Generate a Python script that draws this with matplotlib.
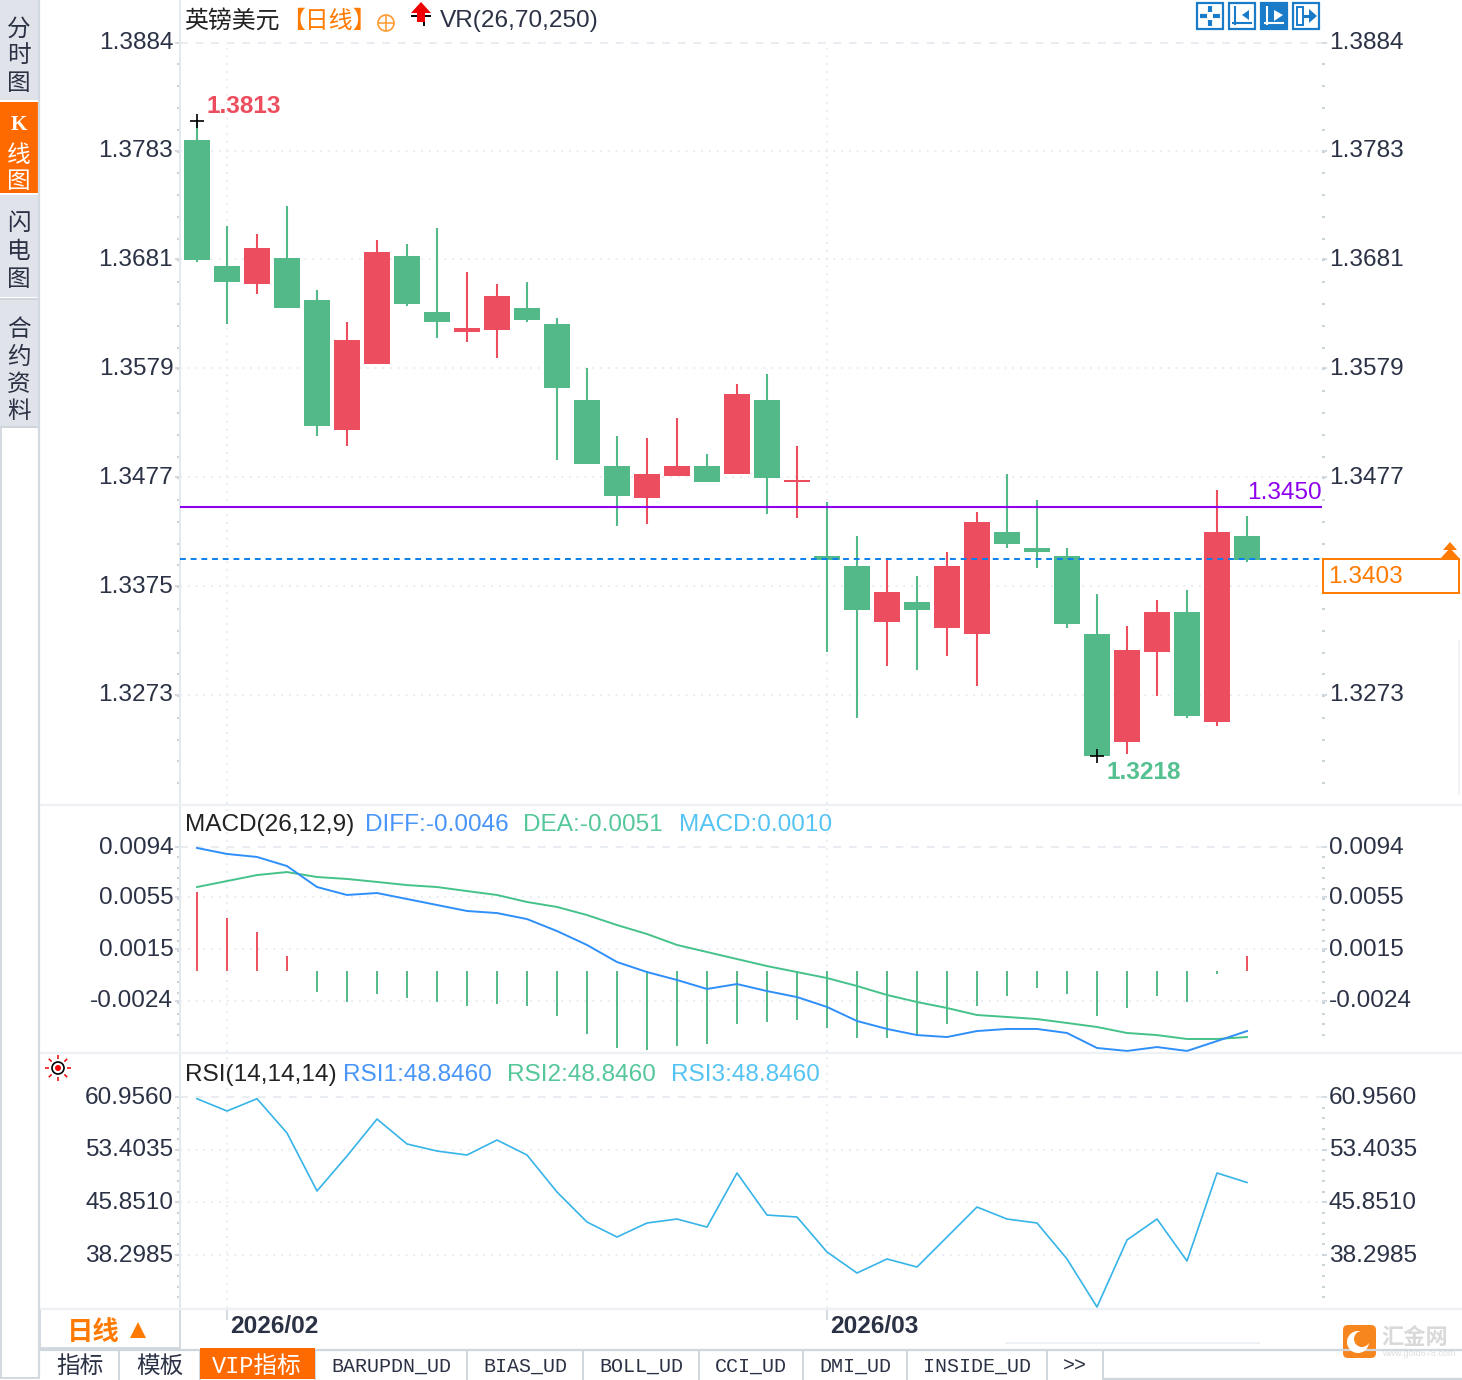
import numpy as np
import matplotlib
matplotlib.use('Agg')
import matplotlib.pyplot as plt
from matplotlib.patches import Rectangle, Polygon, Circle, FancyBboxPatch
from matplotlib.transforms import ScaledTranslation

plt.rcParams['font.family'] = ['Liberation Sans', 'Noto Sans CJK SC']

W, H = 1462, 1380

# daily candles
opens = [1.37929, 1.36748, 1.36580, 1.36823, 1.36430, 1.35212, 1.35830, 1.36842, 1.36317, 1.36130, 1.36149, 1.36355,
         1.36205, 1.35493, 1.34875, 1.34575, 1.34781, 1.34875, 1.34800, 1.35493, 1.34725, 1.34032, 1.33938, 1.33414,
         1.33601, 1.33358, 1.33301, 1.34257, 1.34107, 1.34032, 1.33301, 1.32290, 1.33133, 1.33507, 1.32477, 1.34219]
closes = [1.36805, 1.36599, 1.36917, 1.36355, 1.35250, 1.36055, 1.36880, 1.36392, 1.36224, 1.36168, 1.36467, 1.36243,
          1.35606, 1.34894, 1.34594, 1.34800, 1.34875, 1.34725, 1.35549, 1.34763, 1.34744, 1.33994, 1.33526, 1.33695,
          1.33526, 1.33938, 1.34350, 1.34144, 1.34069, 1.33395, 1.32159, 1.33151, 1.33507, 1.32533, 1.34257, 1.33994]
highs = [1.38107, 1.37123, 1.37048, 1.37310, 1.36524, 1.36224, 1.36992, 1.36954, 1.37104, 1.36692, 1.36580, 1.36599,
         1.36261, 1.35793, 1.35156, 1.35137, 1.35325, 1.34987, 1.35643, 1.35737, 1.35062, 1.34538, 1.34219, 1.34013,
         1.33845, 1.34069, 1.34444, 1.34800, 1.34556, 1.34107, 1.33676, 1.33376, 1.33620, 1.33713, 1.34650, 1.34407]
lows = [1.36786, 1.36205, 1.36486, 1.36355, 1.35156, 1.35062, 1.35830, 1.36374, 1.36074, 1.36036, 1.35887, 1.36224,
        1.34931, 1.34894, 1.34313, 1.34332, 1.34781, 1.34725, 1.34800, 1.34425, 1.34388, 1.33133, 1.32514, 1.33002,
        1.32964, 1.33095, 1.32814, 1.34107, 1.33920, 1.33358, 1.32159, 1.32177, 1.32721, 1.32514, 1.32440, 1.33976]
hl_line = 1.3449
last_line = 1.3400

diff = [94.5, 89.9, 87.6, 80.6, 64.5, 58.4, 59.9, 55.3, 50.7, 46.1, 44.5, 39.9, 30.7, 20.0, 6.9, -0.8, -6.9, -13.8,
        -10.0, -15.4, -20.0, -27.6, -38.4, -44.5, -49.2, -50.7, -46.1, -44.5, -44.5, -47.6, -59.1, -61.4, -58.4,
        -61.4, -53.8, -46.1]
dea = [64.5, 69.1, 73.7, 76.0, 72.2, 70.7, 68.4, 66.0, 64.5, 61.4, 58.4, 53.0, 49.2, 43.0, 35.3, 28.4, 20.0, 14.6,
       9.2, 3.8, -0.8, -5.4, -11.5, -18.4, -23.8, -28.4, -33.8, -35.3, -36.9, -39.9, -43.0, -47.6, -49.2, -52.2,
       -52.2, -50.7]
macd = [60.7, 40.7, 30.0, 11.5, -16.1, -23.8, -17.7, -20.7, -23.8, -26.9, -25.3, -26.9, -34.6, -48.4, -59.1, -60.7,
        -57.6, -56.1, -40.7, -39.2, -37.6, -43.8, -51.5, -51.5, -49.9, -40.7, -26.9, -19.2, -13.1, -17.7, -34.6,
        -28.4, -19.2, -23.8, -2.3, 11.5]
rsi = [60.71, 58.95, 60.71, 55.79, 47.48, 52.50, 57.80, 54.22, 53.21, 52.64, 54.79, 52.64, 47.33, 43.03, 40.88,
       42.89, 43.46, 42.31, 50.06, 44.03, 43.75, 38.73, 35.72, 37.73, 36.58, 40.88, 45.18, 43.46, 42.89, 37.73,
       30.84, 40.45, 43.46, 37.44, 50.06, 48.70]

price_ticks = [1.3884, 1.3783, 1.3681, 1.3579, 1.3477, 1.3375, 1.3273]
macd_ticks = [95.2, 56.8, 16.9, -23.0]
macd_tick_labels = ['0.0094', '0.0055', '0.0015', '-0.0024']
rsi_ticks = [60.956, 53.4035, 45.851, 38.2985]
date_pos = [1, 21]
date_labels = ['2026/02', '2026/03']
tabs = ['BARUPDN_UD', 'BIAS_UD', 'BOLL_UD', 'CCI_UD', 'DMI_UD', 'INSIDE_UD', '>>']

RED = '#ed4e5f'
GREEN = '#53b988'
TEXT = '#2b3245'
GRID = '#e9edf1'
TICK = '#ccd4dc'
ORANGE = '#ff7a00'
BLUE_ICON = '#1a7cc9'
FS = 17.6


def add_panel(top, bottom):
    ax = fig.add_axes([180 / W, 1 - bottom / H, (1322 - 180) / W, (bottom - top) / H])
    ax.set_xlim(-0.567, 37.5)
    for s in ['top', 'right', 'bottom']:
        ax.spines[s].set_visible(False)
    ax.spines['left'].set_color('#e4e9ee')
    ax.spines['left'].set_linewidth(1.5)
    ax.set_xticks([])
    ax.tick_params(axis='y', which='major', length=3.6, width=1.2, color=TICK, labelsize=FS, labelcolor=TEXT,
                   left=True, right=True, labelleft=True, labelright=True, pad=1.2)
    ax.tick_params(axis='y', which='minor', length=2, width=1.5, color=TICK, left=True, right=True)
    return ax


def h_grid(ax, vals):
    # first line dashed, the rest dotted
    for k, v in enumerate(vals):
        if k == 0:
            ax.axhline(v, color=GRID, lw=1.4, ls=(0, (4, 4)), zorder=0)
        else:
            ax.axhline(v, color=GRID, lw=1.4, ls=(0, (1, 3)), zorder=0)


def shift_labels(ax, dy=2):
    off = ScaledTranslation(0, dy / 100, fig.dpi_scale_trans)
    for lab in ax.get_yticklabels():
        lab.set_transform(lab.get_transform() + off)


fig = plt.figure(figsize=(W / 100, H / 100), dpi=100)

# candles
ax1 = add_panel(0, 804)
ax1.set_ylim(1.31709, 1.39240)
x = np.arange(len(opens))
colors = [RED if c >= o else GREEN for o, c in zip(opens, closes)]
h_grid(ax1, price_ticks)
for d in date_pos:
    ax1.axvline(d, ymax=0.94, color=GRID, lw=1.4, ls=(0, (1, 3)), zorder=0)
ax1.vlines(x, lows, highs, colors=colors, lw=1.5, zorder=2)
ax1.bar(x, np.abs(np.array(closes) - np.array(opens)), bottom=np.minimum(opens, closes), width=0.867,
        color=colors, zorder=3)
ax1.axhline(hl_line, color='#8f00f0', lw=1.5, zorder=4)
ax1.axhline(last_line, color='#0a7ff0', lw=1.4, ls=(0, (3, 2.5)), zorder=4)
ax1.set_yticks(price_ticks)
ax1.set_yticklabels(['%.4f' % p for p in price_ticks])
ax1.set_yticks(np.arange(1.3884, 1.3180, -0.00204), minor=True)
ax1.plot([0, 30], [highs[0], lows[30]], ls='', marker='+', ms=9.5, mew=1.2, color='black', zorder=5)
ax1.annotate('1.3813', xy=(0, highs[0]), xytext=(7.0, 10.2), textcoords='offset points', color=RED, fontsize=FS,
             fontweight='bold', va='center', ha='left')
ax1.annotate('1.3218', xy=(30, lows[30]), xytext=(7.0, -12.2), textcoords='offset points', color='#55c090',
             fontsize=FS, fontweight='bold', va='center', ha='left')
ax1.annotate('1.3450', xy=(37.5, hl_line), xytext=(0, 10), textcoords='offset points', color='#8f00f0', fontsize=FS,
             va='center', ha='right')
shift_labels(ax1)
# the last price box covers this label on the right side
ax1.yaxis.get_major_ticks()[5].label2.set_visible(False)

# macd, values are in 1e-4
ax2 = add_panel(805, 1052)
ax2.set_ylim(-62.2, 127.5)
h_grid(ax2, macd_ticks)
for d in date_pos:
    ax2.axvline(d, color=GRID, lw=1.4, ls=(0, (1, 3)), zorder=0)
ax2.vlines(x, 0, macd, colors=[RED if m > 0 else GREEN for m in macd], lw=1.4, zorder=2)
ax2.plot(x, dea, color='#45c28a', lw=1.4, zorder=3)
ax2.plot(x, diff, color='#2f8ffa', lw=1.4, zorder=3)
ax2.set_yticks(macd_ticks)
ax2.set_yticklabels(macd_tick_labels)
ax2.set_yticks(np.arange(95.2, -56, -8.0), minor=True)
shift_labels(ax2)

# rsi
ax3 = add_panel(1053, 1308)
ax3.set_ylim(30.70, 67.27)
h_grid(ax3, rsi_ticks)
for d in date_pos:
    ax3.axvline(d, color=GRID, lw=1.4, ls=(0, (1, 3)), zorder=0)
ax3.plot(x, rsi, color='#36b4e8', lw=1.2, zorder=3)
ax3.set_yticks(rsi_ticks)
ax3.set_yticklabels(['%.4f' % r for r in rsi_ticks])
ax3.set_yticks(np.arange(60.956, 32, -1.51), minor=True)
shift_labels(ax3)
ax3.set_xticks(date_pos)
ax3.set_xticklabels(date_labels, fontsize=FS, fontweight='bold', color=TEXT, ha='left')
ax3.tick_params(axis='x', length=8.6, width=1.2, color=TICK, pad=-3.6)
off = ScaledTranslation(3 / 100, 0, fig.dpi_scale_trans)
for lab in ax3.get_xticklabels():
    lab.set_transform(lab.get_transform() + off)

# window chrome on top, in pixel coordinates
ov = fig.add_axes([0, 0, 1, 1], zorder=10)
ov.set_xlim(0, W)
ov.set_ylim(H, 0)
ov.axis('off')
ov.patch.set_alpha(0)


def rect(x0, y0, x1, y1, fc='none', ec='none', lw=0, z=1):
    ov.add_patch(Rectangle((x0, y0), x1 - x0, y1 - y0, facecolor=fc, edgecolor=ec, linewidth=lw, zorder=z))


def line(xs, ys, c=TICK, lw=1.4, z=2):
    ov.plot(xs, ys, color=c, lw=lw, zorder=z, solid_capstyle='butt')


# left tabs
rect(0, 0, 38, 100, fc='#e0e3ea')
rect(0, 102, 38, 193, fc='#ff6a00')
rect(0, 195, 38, 297, fc='#e0e3ea')
rect(0, 300, 38, 426, fc='#e0e3ea')
line([0, 38], [298.5, 298.5], c='#cdd4dc', lw=1.4)
line([0, 38], [427, 427], c='#cdd4dc', lw=1.4)
line([39, 39], [0, 1378], c='#d3d9e0', lw=1.6)
line([1, 1], [427, 1378], c='#d3d9e0', lw=1.4)
line([0, 40], [1378, 1378], c='#d3d9e0', lw=1.4)
for ch, yy in [('分', 29), ('时', 56), ('图', 84), ('闪', 224), ('电', 252), ('图', 280), ('合', 330), ('约', 357),
               ('资', 384), ('料', 412)]:
    ov.text(19, yy, ch, color=TEXT, fontsize=17, ha='center', va='center', family='Noto Sans CJK SC')
for ch, yy in [('线', 155), ('图', 182)]:
    ov.text(19, yy, ch, color='white', fontsize=17, ha='center', va='center', family='Noto Sans CJK SC')
ov.text(19, 125, 'K', color='white', fontsize=15, ha='center', va='center', family='Liberation Serif', fontweight='bold')

# panel separators
for yy in [804.5, 1052.5, 1308.5]:
    line([40, W], [yy, yy], c='#edf1f5', lw=1.6)
line([1005, 1260], [1342.5, 1342.5], c='#edf1f5', lw=1.4)
line([1459, 1459], [640, 795], c='#eef1f5', lw=1.4)

# titles
ov.text(184, 21, '英镑美元', color='#222222', fontsize=17.2, va='center', family='Noto Sans CJK SC')
ov.text(281, 21, '【日线】', color=ORANGE, fontsize=17.2, va='center', family='Noto Sans CJK SC')
ov.text(440, 21, 'VR(26,70,250)', color='#2b3245', fontsize=FS, va='center')
for txt, xx, yy, c in [('MACD(26,12,9)', 185, 825, '#222222'), ('DIFF:-0.0046', 365, 825, '#4a96f8'),
                       ('DEA:-0.0051', 523, 825, '#55c79a'), ('MACD:0.0010', 679, 825, '#55c4f2'),
                       ('RSI(14,14,14)', 185, 1075, '#222222'), ('RSI1:48.8460', 343, 1075, '#4a96f8'),
                       ('RSI2:48.8460', 507, 1075, '#55c79a'), ('RSI3:48.8460', 671, 1075, '#55c4f2')]:
    ov.text(xx, yy, txt, color=c, fontsize=FS, va='center')

# small title icons
ov.add_patch(Circle((386, 23), 8, fc='none', ec='#ff9a30', lw=1.2))
line([378, 394], [23, 23], c='#ff9a30', lw=1.1)
line([386, 386], [15, 31], c='#ff9a30', lw=1.1)
line([411, 431], [16, 16], c='black', lw=1.4)
line([424, 424], [12, 26], c='black', lw=1.4)
ov.add_patch(Polygon([(421, 2), (431, 13), (425, 13), (425, 22), (417, 22), (417, 13), (411, 13)], fc='#f00000', ec='none', zorder=3))

# toolbar top right
for k, x0 in enumerate([1196, 1228, 1260, 1292]):
    filled = k == 2
    rect(x0 + 1, 3, x0 + 27, 29, fc=BLUE_ICON if filled else 'white', ec=BLUE_ICON, lw=1.6)
    c = 'white' if filled else BLUE_ICON
    if k == 0:
        line([x0 + 4, x0 + 11], [16, 16], c=c, lw=3)
        line([x0 + 17, x0 + 24], [16, 16], c=c, lw=3)
        line([x0 + 14, x0 + 14], [6, 12], c=c, lw=3)
        line([x0 + 14, x0 + 14], [20, 26], c=c, lw=3)
    elif k in (1, 2):
        line([x0 + 7, x0 + 7], [6, 25], c=c, lw=1.5)
        line([x0 + 4, x0 + 24], [23, 23], c=c, lw=1.5)
        pts = [(x0 + 21, 10), (x0 + 21, 20), (x0 + 14, 15)] if k == 1 else [(x0 + 14, 10), (x0 + 14, 21), (x0 + 23, 15)]
        ov.add_patch(Polygon(pts, fc=c, ec='none', zorder=3))
    else:
        rect(x0 + 5, 7, x0 + 11, 25, ec=c, lw=1.4, z=3)
        line([x0 + 11, x0 + 19], [16, 16], c=c, lw=2.2)
        ov.add_patch(Polygon([(x0 + 17, 9), (x0 + 17, 23), (x0 + 25, 16)], fc=c, ec='none', zorder=3))

# last price box
rect(1323, 559, 1459, 593, fc='white', ec=ORANGE, lw=1.4)
ov.text(1328, 577, '1.3403', color=ORANGE, fontsize=FS, va='center')
ov.add_patch(Polygon([(1450, 542), (1457, 550), (1443, 550)], fc=ORANGE, ec='none'))
ov.add_patch(Polygon([(1450, 548), (1459, 558), (1441, 558)], fc=ORANGE, ec='none'))

# sun icon of the rsi panel
ov.add_patch(Circle((58, 1068), 6, fc='white', ec='black', lw=1.2, zorder=3))
ov.add_patch(Circle((58, 1068), 3, fc='#f00000', ec='none', zorder=4))
for a in np.arange(0, 360, 45):
    ca, sa = np.cos(np.radians(a)), np.sin(np.radians(a))
    line([58 + 9 * ca, 58 + 13 * ca], [1068 + 9 * sa, 1068 + 13 * sa], c='#f00000', lw=1.1)

# bottom left period box
rect(40, 1309, 180, 1348, fc='white', ec='#d3d9e0', lw=1.4)
ov.text(93, 1332, '日线', color=ORANGE, fontsize=19, ha='center', va='center', family='Noto Sans CJK SC', fontweight='bold')
ov.add_patch(Polygon([(138, 1322), (146, 1338), (130, 1338)], fc=ORANGE, ec='none'))

# bottom tabs
line([40, W], [1349.5, 1349.5], c='#cfd6dd', lw=1.6)
line([1103, W], [1378.5, 1378.5], c='#cfd6dd', lw=1.6)
seps = [119, 200, 315, 467, 583, 699, 803, 907, 1047, 1103]
for s in seps:
    line([s, s], [1349, 1380], c='#cfd6dd', lw=1.4)
rect(200, 1348, 315, 1379, fc='#ff6a00', z=3)
ov.text(80, 1366, '指标', color=TEXT, fontsize=17, ha='center', va='center', family='Noto Sans CJK SC')
ov.text(160, 1366, '模板', color=TEXT, fontsize=17, ha='center', va='center', family='Noto Sans CJK SC')
ov.text(257, 1366, 'VIP指标', color='white', fontsize=17, ha='center', va='center', zorder=4,
        family=['Liberation Mono', 'Noto Sans CJK SC'])
for k, t in enumerate(tabs):
    ov.text((seps[k + 3] + seps[k + 2]) / 2, 1366, t, color=TEXT, fontsize=14.4, ha='center', va='center',
            family='Liberation Mono')

# watermark
ov.add_patch(FancyBboxPatch((1345, 1327), 29, 29, boxstyle='round,pad=2,rounding_size=5', fc='#f7861e', ec='none'))
ov.add_patch(Circle((1358, 1342), 11, fc='white', ec='none', zorder=3))
ov.add_patch(Circle((1362, 1339), 8, fc='#f7861e', ec='none', zorder=4))
ov.text(1381, 1338, '汇金网', color='#d9d9d9', fontsize=16, va='center', family='Noto Sans CJK SC', fontweight='bold')
ov.text(1382, 1354, 'www.gold678.com', color='#dddddd', fontsize=6.5, va='center')

fig.savefig('out.png', dpi=100, facecolor='white')
